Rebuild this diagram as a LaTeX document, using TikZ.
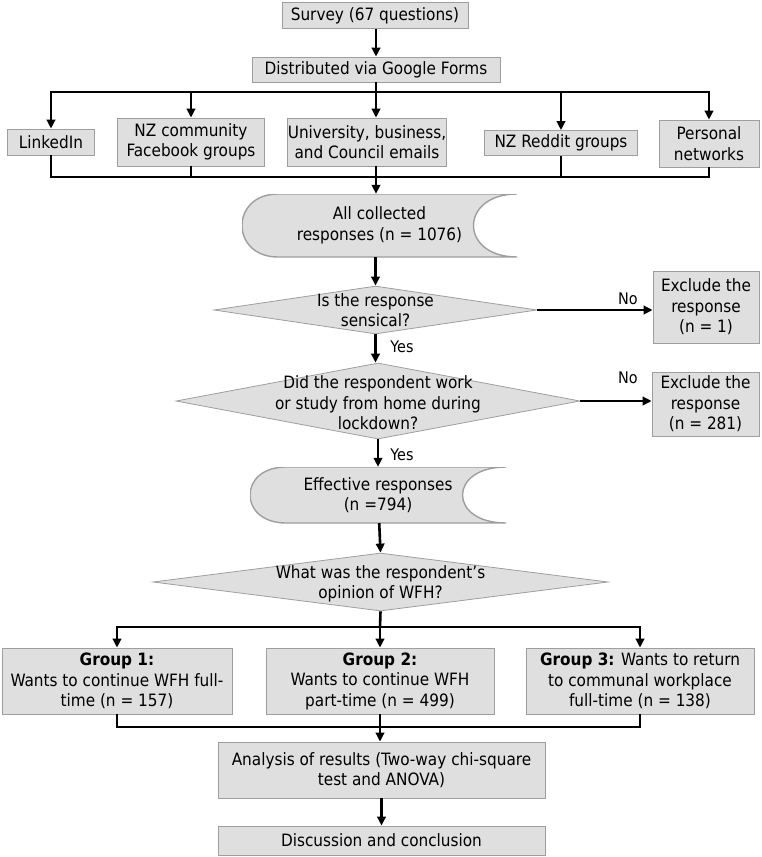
\documentclass[tikz,border=0pt]{standalone}
\usepackage{fontspec}
\setmainfont{DejaVu Sans Condensed}
\usetikzlibrary{arrows.meta,shapes.geometric}

\definecolor{boxfill}{gray}{0.875}
\definecolor{boxline}{gray}{0.62}

\tikzset{
  txt/.style={font=\fontsize{17}{20.5}\selectfont, align=center, inner sep=0pt},
  box/.style={txt, draw=boxline, fill=boxfill, line width=0.8pt},
  decision/.style={diamond, draw=boxline, fill=boxfill, line width=0.8pt, inner sep=0pt},
  stored/.style={txt, path picture={
    \path[draw=boxline, fill=boxfill, line width=1.4pt]
      ([xshift=36pt]path picture bounding box.north west)
      .. controls +(-48pt,0) and +(-48pt,0) .. ([xshift=36pt]path picture bounding box.south west)
      -- (path picture bounding box.south east)
      .. controls +(-58pt,0) and +(-58pt,0) .. (path picture bounding box.north east) -- cycle;}},
  ln/.style={line width=2.6pt},
  arr/.style={line width=2.6pt, -{Triangle[length=9pt,width=8.5pt]}},
  lbl/.style={font=\fontsize{16}{19}\selectfont, inner sep=0pt}
}

\begin{document}
\begin{tikzpicture}[x=1pt,y=1pt]
\useasboundingbox (0,0) rectangle (762,-857);
% survey and distribution
\node[box, minimum width=186, minimum height=26] (survey) at (375,-15.5) {Survey (67 questions)};
\node[box, minimum width=248, minimum height=25] (dist) at (376,-69.5) {Distributed via Google Forms};
% channels
\node[box, minimum width=87, minimum height=26] (linkedin) at (51,-142) {LinkedIn};
\node[box, minimum width=147, minimum height=48] (nzfb) at (191,-142) {NZ community\\Facebook groups};
\node[box, minimum width=158, minimum height=48] (uni) at (367,-142) {University, business,\\and Council emails};
\node[box, minimum width=153, minimum height=25] (reddit) at (561,-143) {NZ Reddit groups};
\node[box, minimum width=100, minimum height=47] (persnet) at (709,-143.5) {Personal\\networks};
\coordinate (split) at (376,-92);
\coordinate (merge) at (376,-177);
% responses and checks
\node[stored, minimum width=275, minimum height=63] (allc) at (379.5,-225.5) {All collected\\responses (n = 1076)};
\node[decision, minimum width=323, minimum height=48,
  label={[txt]center:{Is the response\\sensical?}}] (q1) at (375.5,-310) {};
\node[box, minimum width=106, minimum height=72] (ex1) at (706,-307) {Exclude the\\response\\(n = 1)};
\node[decision, minimum width=404, minimum height=76,
  label={[txt, yshift=-2pt]center:{Did the respondent work\\or study from home during\\lockdown?}}] (q2) at (378,-401) {};
\node[box, minimum width=107, minimum height=64] (ex2) at (705.5,-404) {Exclude the\\response\\(n = 281)};
\node[stored, minimum width=256, minimum height=56] (eff) at (378,-495) {Effective responses\\(n =794)};
\node[decision, minimum width=455, minimum height=58,
  label={[txt, yshift=-2pt]center:{What was the respondent’s\\opinion of WFH?}}] (q3) at (380.5,-582) {};
% labels
\node[lbl] (no1) at (628,-299) {No};
\node[lbl] (no2) at (628,-378) {No};
\node[lbl] (yes1) at (402,-347) {Yes};
\node[lbl] (yes2) at (402,-455) {Yes};
% groups
\node[box, minimum width=230, minimum height=66] (g1) at (117,-681) {\textbf{Group 1:}\\Wants to continue WFH full-\\time (n = 157)};
\node[box, minimum width=228, minimum height=66] (g2) at (380,-681) {\textbf{Group 2:}\\Wants to continue WFH\\part-time (n = 499)};
\node[box, minimum width=228, minimum height=66] (g3) at (640,-681) {\textbf{Group 3:} Wants to return\\to communal workplace\\full-time (n = 138)};
\coordinate (gsplit) at (380,-627);
\coordinate (gmerge) at (380,-727);
% analysis
\node[box, minimum width=327, minimum height=56] (analysis) at (381.5,-770) {Analysis of results (Two-way chi-square\\test and ANOVA)};
\node[box, minimum width=327, minimum height=29] (disc) at (381.5,-840.5) {Discussion and conclusion};
% connectors
\draw[arr] (survey.south -| dist) -- (dist);
\draw[arr] (dist) -- (dist |- uni.north);
\foreach \n in {linkedin,nzfb,reddit,persnet}
  \draw[arr] (split) -| (\n);
\foreach \n in {linkedin,nzfb,reddit,persnet}
  \draw[ln] (\n) |- (merge);
\draw[ln] (uni.south -| merge) -- (merge);
\draw[arr] (merge) -- (merge |- allc.north);
\draw[arr] (allc.south -| q1) -- (q1.north);
\draw[arr] (q1.east) -- (ex1.west |- q1.east);
\draw[arr] (q1.south) -- (q1.south |- q2.north);
\draw[arr] (q2.east) -- (ex2.west |- q2.east);
\draw[arr] (q2.south) -- (eff);
\draw[arr] (eff) -- (q3.north);
\draw[ln] (q3.south) -- (gsplit);
\foreach \n in {g1,g2,g3}
  \draw[arr] (gsplit) -| (\n);
\foreach \n in {g1,g3}
  \draw[ln] (\n) |- (gmerge);
\draw[arr] (g2.south) -- (g2.south |- analysis.north);
\draw[arr] (analysis) -- (disc);
\end{tikzpicture}
\end{document}
